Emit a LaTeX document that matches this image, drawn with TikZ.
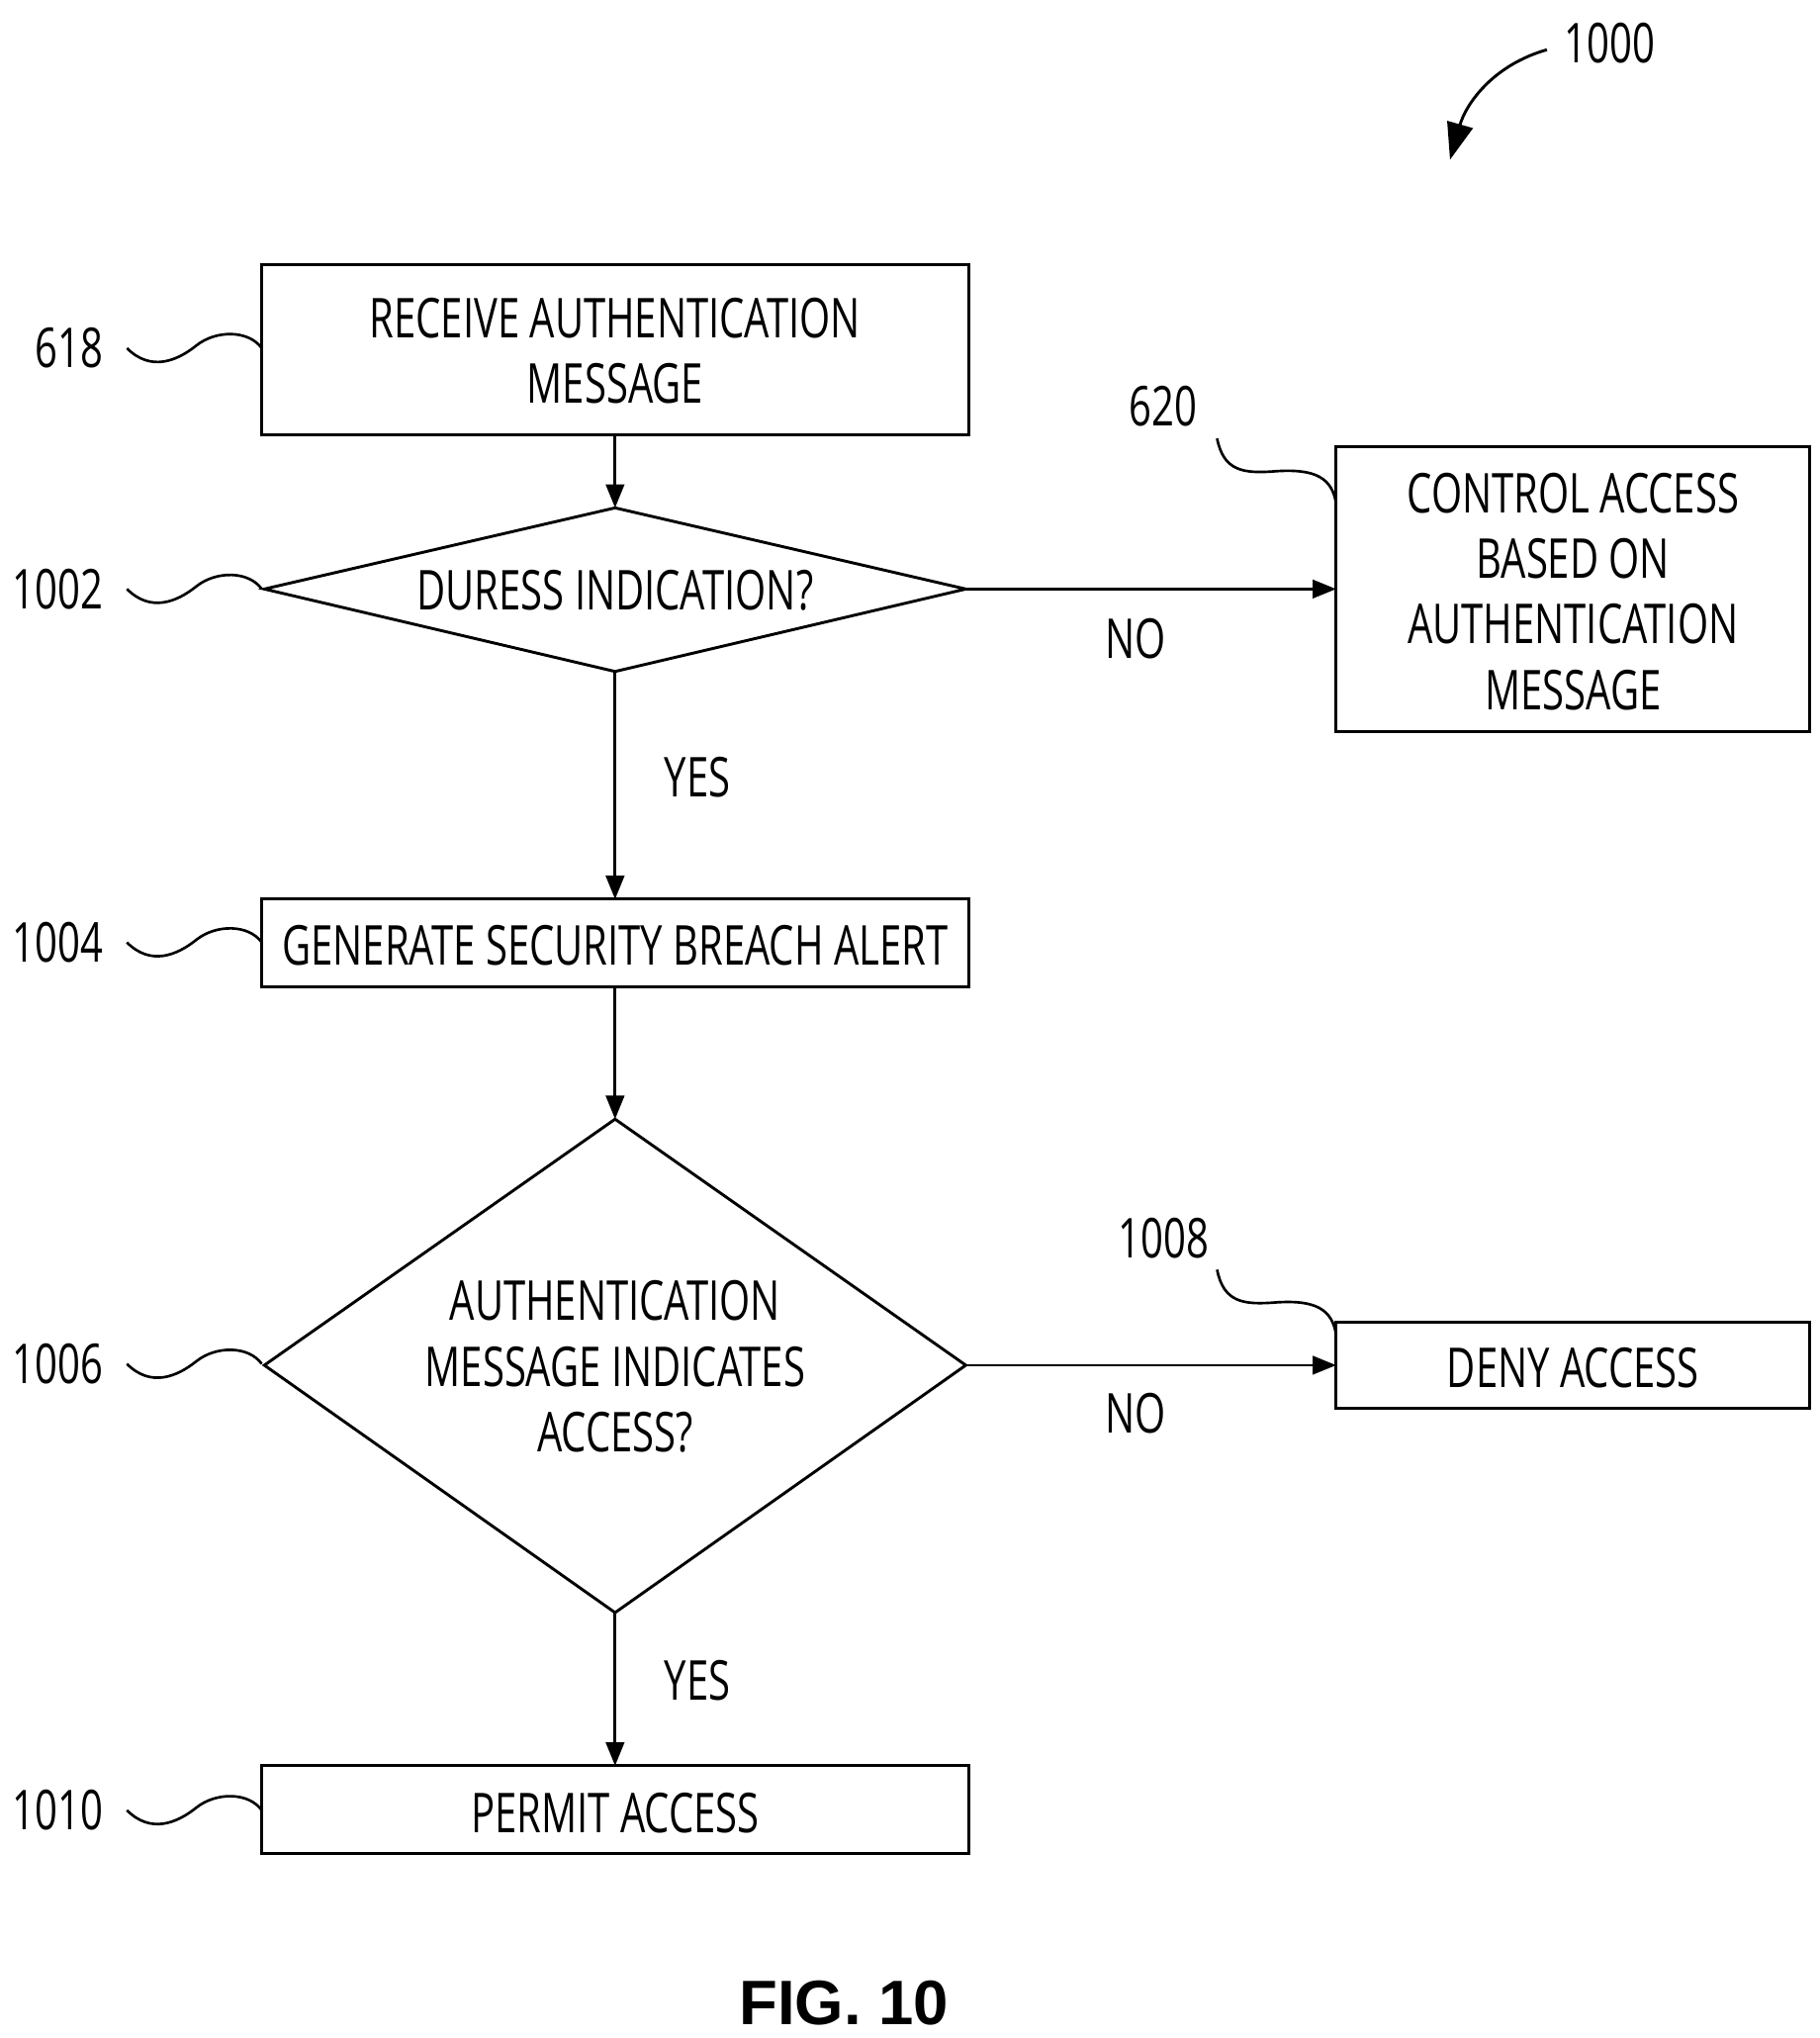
\documentclass[tikz,border=0pt]{standalone}
\usepackage{fontspec}
\setmainfont{Open Sans}[FakeStretch=0.72]
\newfontfamily\figfont{Liberation Sans}
\usetikzlibrary{arrows.meta}
\begin{document}
\begin{tikzpicture}[x=0.5pt,y=-0.5pt,
  box/.style={draw,line width=1.1pt,inner sep=0pt},
  txt/.style={font=\fontsize{21}{25}\selectfont,align=center},
  arr/.style={line width=1.1pt,-{Triangle[length=9pt,width=7pt]}},
  sq/.style={line width=1pt}]
\useasboundingbox (0,0) rectangle (1390,1557);
\draw[box] (200,202) rectangle (740,332);
\node[txt] (b618) at (470,268) {RECEIVE AUTHENTICATION\\MESSAGE};
\coordinate (b618s) at (470,332);
\draw[box] (202,450) -- (470,388) -- (738,450) -- (470,513) -- cycle;
\node[txt] (d1002) at (470,451) {DURESS INDICATION?};
\coordinate (d1002t) at (470,388); \coordinate (d1002r) at (738,450); \coordinate (d1002b) at (470,513);
\draw[box] (1021,341) rectangle (1383,559);
\node[txt] (b620) at (1202,452) {CONTROL ACCESS\\BASED ON\\AUTHENTICATION\\MESSAGE};
\coordinate (b620l) at (1021,450);
\draw[box] (200,687) rectangle (740,754);
\node[txt] (b1004) at (470,722) {GENERATE SECURITY BREACH ALERT};
\coordinate (b1004t) at (470,687); \coordinate (b1004b) at (470,754);
\draw[box] (202,1043) -- (470,855) -- (738,1043) -- (470,1232) -- cycle;
\node[txt] (d1006) at (470,1044) {AUTHENTICATION\\MESSAGE INDICATES\\ACCESS?};
\coordinate (d1006t) at (470,855); \coordinate (d1006r) at (738,1043); \coordinate (d1006b) at (470,1232);
\draw[box] (1021,1010) rectangle (1383,1076);
\node[txt] (b1008) at (1202,1045) {DENY ACCESS};
\coordinate (b1008l) at (1021,1043);
\draw[box] (200,1349) rectangle (740,1416);
\node[txt] (b1010) at (470,1385) {PERMIT ACCESS};
\coordinate (b1010t) at (470,1349);
\draw[arr] (b618s) -- (d1002t);
\draw[arr] (d1002r) -- (b620l);
\draw[arr] (d1002b) -- (b1004t);
\draw[arr] (b1004b) -- (d1006t);
\draw[arr] (d1006r) -- (b1008l);
\draw[arr] (d1006b) -- (b1010t);
\node[txt] (no1) at (868,488) {NO};
\node[txt] (no2) at (868,1080) {NO};
\node[txt] (yes1) at (533,594) {YES};
\node[txt] (yes2) at (533,1284) {YES};
\foreach \n/\y in {618/266,1002/450,1004/720,1006/1042,1010/1383}{
  \node[txt,anchor=east] (l\n) at (86,\y) {\n};
  \draw[sq] (97,\y) .. controls (115,\y+18) and (135,\y+10) .. (150,\y-2) .. controls (165,\y-14) and (190,\y-14) .. (200,\y);
}
\node[txt] (l620) at (889,310) {620};
\draw[sq] (930,335) .. controls (935,360) and (950,362) .. (975,360) .. controls (1005,358) and (1018,365) .. (1021,385);
\node[txt] (l1008) at (889,946) {1008};
\draw[sq] (930,970) .. controls (935,995) and (950,997) .. (975,995) .. controls (1005,993) and (1018,1000) .. (1021,1020);
\node[txt] (l1000) at (1230,33) {1000};
\coordinate (a0) at (1182,38); \coordinate (a1) at (1108,122);
\draw[line width=1.1pt,-{Triangle[length=14pt,width=10pt]}] (a0) .. controls (1140,50) and (1120,80) .. (a1);
\node[font=\figfont\bfseries\fontsize{24}{28}\selectfont] (fig) at (645,1530) {FIG. 10};
\end{tikzpicture}
\end{document}
